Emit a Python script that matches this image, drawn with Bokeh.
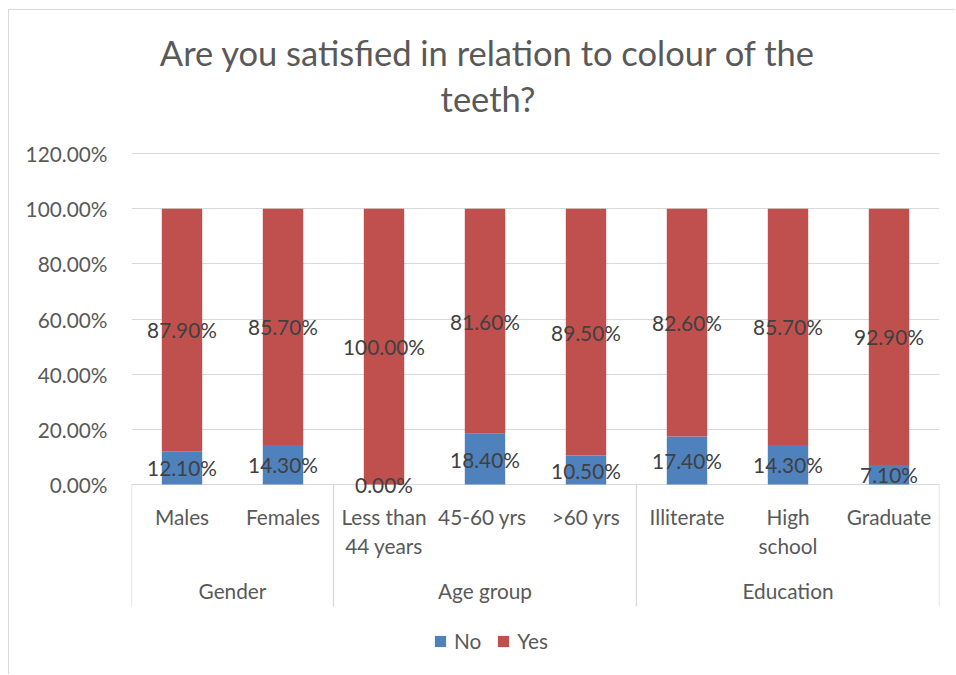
from bokeh.plotting import figure
from bokeh.models import ColumnDataSource, Range1d, FixedTicker, PrintfTickFormatter
from bokeh.core.properties import value
from bokeh.embed import file_html
from bokeh.resources import INLINE

# ---- data ----
title_lines = ["Are you satisfied in relation to colour of the", "teeth?"]
groups = ["Gender", "Age group", "Education"]
group_sizes = [2, 3, 3]
categories = ["Males", "Females", "Less than\n44 years", "45-60  yrs", ">60 yrs",
              "Illiterate", "High\nschool", "Graduate"]
no_pct = [12.1, 14.3, 0.0, 18.4, 10.5, 17.4, 14.3, 7.1]
yes_pct = [87.9, 85.7, 100.0, 81.6, 89.5, 82.6, 85.7, 92.9]
y_ticks = [0, 20, 40, 60, 80, 100, 120]
series_names = ["No", "Yes"]
series_colors = ["#4F81BD", "#C0504D"]

FONT = "Lato"
GREY = "#595959"
DARK = "#404040"
FS = "20.8px"

n = len(categories)
xs = [i + 0.5 for i in range(n)]

src = ColumnDataSource(dict(x=xs, No=no_pct, Yes=yes_pct))

PX = 2.758  # pixels per percent
p = figure(width=947, height=665, output_backend="svg", toolbar_location=None,
           x_range=Range1d(0, n), y_range=Range1d(-191 / PX, 474 / PX),
           x_axis_location=None,
           min_border_left=122, min_border_right=17, min_border_top=0, min_border_bottom=0,
           styles={"margin-left": "8px", "margin-top": "9px",
                   "border-left": "1px solid #d9d9d9", "border-top": "1px solid #d9d9d9"})
p.outline_line_color = None
p.background_fill_color = "white"
p.border_fill_color = "white"

# y axis
yax = p.yaxis[0]
yax.ticker = FixedTicker(ticks=y_ticks)
yax.formatter = PrintfTickFormatter(format="%.2f%%")
yax.axis_line_color = None
yax.major_tick_line_color = None
yax.minor_tick_line_color = None
yax.major_label_text_font = FONT
yax.major_label_text_font_size = FS
yax.major_label_text_color = GREY
yax.major_label_standoff = 18
p.xgrid.visible = False
p.ygrid.grid_line_color = "#d9d9d9"
p.ygrid.grid_line_width = 1

# bars
p.vbar_stack(series_names, x="x", width=0.4, source=src, color=series_colors,
             line_color=None, legend_label=series_names)

# data labels
lab_x, lab_y, lab_t = [], [], []
for i in range(n):
    lab_x += [xs[i], xs[i]]
    lab_y += [no_pct[i] / 2, no_pct[i] + yes_pct[i] / 2]
    lab_t += ["%.2f%%" % no_pct[i], "%.2f%%" % yes_pct[i]]
p.text(x=lab_x, y=lab_y, text=lab_t, text_font=value(FONT), text_font_size=FS,
       text_color=DARK, text_align="center", text_baseline="middle")

# category labels (possibly two lines)
cx, cy, ct = [], [], []
for i, c in enumerate(categories):
    for j, line in enumerate(c.split("\n")):
        cx.append(xs[i])
        cy.append(-11.6 - j * 10.5)
        ct.append(line)
p.text(x=cx, y=cy, text=ct, text_font=value(FONT), text_font_size=FS,
       text_color=GREY, text_align="center", text_baseline="middle")

# group labels and separators
bounds = [0]
for s in group_sizes:
    bounds.append(bounds[-1] + s)
gx = [(bounds[k] + bounds[k + 1]) / 2 for k in range(len(groups))]
p.text(x=gx, y=[-38.4] * len(groups), text=groups, text_font=value(FONT),
       text_font_size=FS, text_color=GREY, text_align="center", text_baseline="middle")
p.segment(x0=bounds, x1=bounds, y0=[0] * len(bounds), y1=[-44.2] * len(bounds),
          line_color="#d9d9d9", line_width=1.3)

# title
p.text(x=[3.53, 3.53], y=[156.6, 140.0], text=title_lines, text_font=value(FONT),
       text_font_size="34.5px", text_color=GREY, text_align="center", text_baseline="middle")

# legend
leg = p.legend[0]
leg.orientation = "horizontal"
leg.location = (302, 22)
leg.border_line_color = None
leg.background_fill_alpha = 0
leg.padding = 0
leg.margin = 0
leg.spacing = 15
leg.label_standoff = 7
leg.glyph_width = 14
leg.glyph_height = 14
leg.label_height = 20
leg.label_text_font = FONT
leg.label_text_font_size = FS
leg.label_text_color = GREY

open("out.html", "w").write(file_html(p, INLINE))
